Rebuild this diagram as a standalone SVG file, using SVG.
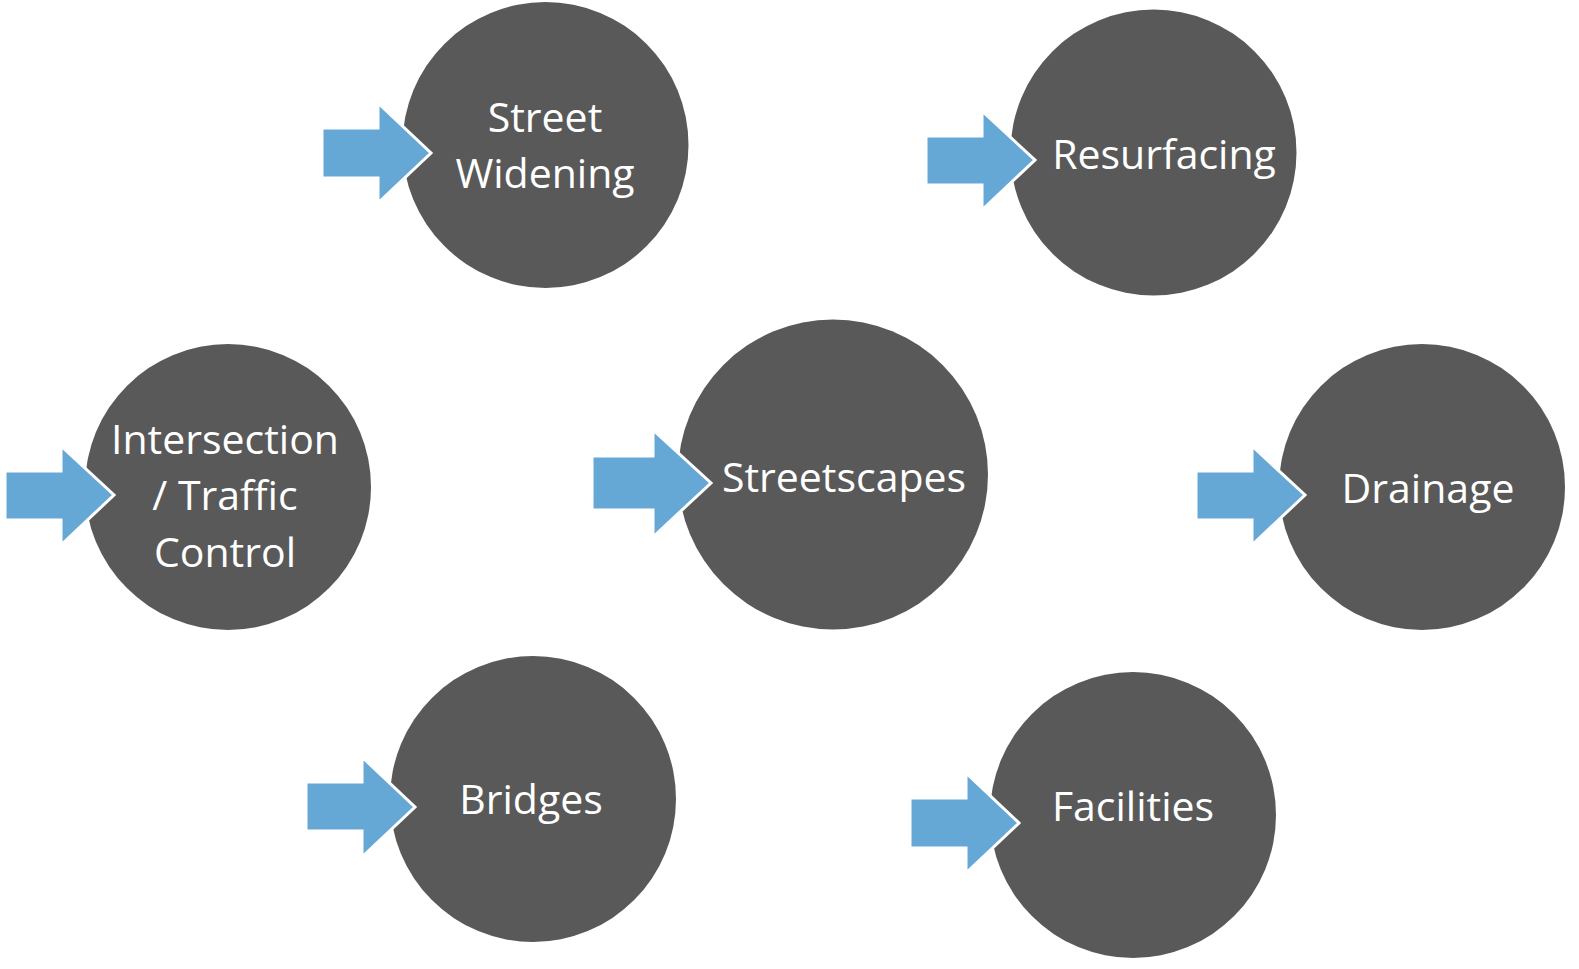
<svg xmlns="http://www.w3.org/2000/svg" width="1579" height="969" viewBox="0 0 1579 969">
<style>
.c{fill:#595959}
.a{fill:#66A8D5;stroke:#fff;stroke-width:3;stroke-linejoin:miter}
.t{fill:#fff;font-family:"Open Sans","Liberation Sans",sans-serif;font-size:41px;text-anchor:middle}
</style>
<rect width="1579" height="969" fill="#fff"/>
<g id="n-street-widening"><circle class="c" cx="545.5" cy="145" r="143"/><text class="t" x="545" y="132">Street</text><text class="t" x="545" y="188">Widening</text></g>
<g id="n-resurfacing"><circle class="c" cx="1153.5" cy="152.5" r="143"/><text class="t" x="1164" y="169">Resurfacing</text></g>
<g id="n-intersection"><circle class="c" cx="228" cy="487" r="143"/><text class="t" x="225" y="454">Intersection</text><text class="t" x="225" y="510">/ Traffic</text><text class="t" x="225" y="567">Control</text></g>
<g id="n-streetscapes"><circle class="c" cx="833" cy="474.5" r="155"/><text class="t" x="844" y="492">Streetscapes</text></g>
<g id="n-drainage"><circle class="c" cx="1422" cy="487" r="143"/><text class="t" x="1428" y="503">Drainage</text></g>
<g id="n-bridges"><circle class="c" cx="533" cy="799" r="143"/><text class="t" x="531" y="814">Bridges</text></g>
<g id="n-facilities"><circle class="c" cx="1133" cy="815" r="143"/><text class="t" x="1133" y="821">Facilities</text></g>
<g id="connectors">
<polygon class="a" points="322,128 378,128 378,103 431,153 378,203 378,178 322,178"/>
<polygon class="a" points="926,136 982,136 982,111 1035,160 982,210 982,185 926,185"/>
<polygon class="a" points="5,471 61,471 61,446 114,495 61,545 61,520 5,520"/>
<polygon class="a" points="592,456 653,456 653,430 711,483 653,537 653,510 592,510"/>
<polygon class="a" points="1196,471 1252,471 1252,446 1305,495 1252,545 1252,520 1196,520"/>
<polygon class="a" points="306,782 362,782 362,757 415,807 362,857 362,831 306,831"/>
<polygon class="a" points="910,798 966,798 966,773 1019,823 966,873 966,848 910,848"/>
</g>
</svg>
